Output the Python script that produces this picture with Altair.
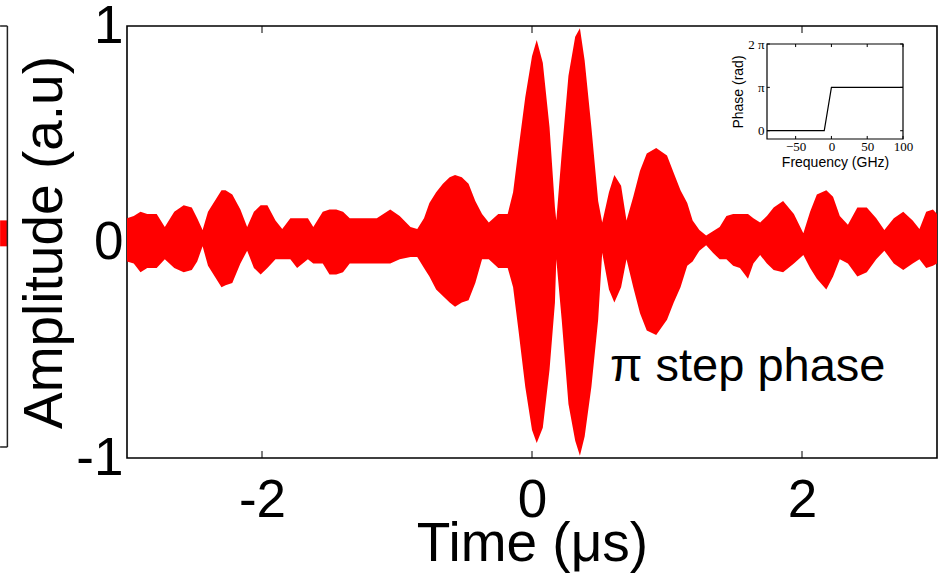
import math
import altair as alt
import pandas as pd

# ---------------- data ----------------
time_us = [
    -3.00, -2.95, -2.90, -2.85, -2.78, -2.72, -2.65, -2.58, -2.52, -2.48,
    -2.44, -2.40, -2.35, -2.30, -2.27, -2.22, -2.16, -2.11, -2.06, -2.01,
    -1.96, -1.90, -1.85, -1.79, -1.74, -1.66, -1.62, -1.55, -1.50, -1.45,
    -1.40, -1.35, -1.25, -1.15, -1.05, -0.98, -0.90, -0.85, -0.80, -0.76,
    -0.71, -0.66, -0.61, -0.57, -0.52, -0.47, -0.42, -0.37, -0.32, -0.25,
    -0.18, -0.14, -0.10, -0.05, 0.00, 0.035, 0.08, 0.13, 0.17, 0.18,
    0.22, 0.27, 0.32, 0.355, 0.39, 0.44, 0.49, 0.52, 0.57, 0.61,
    0.66, 0.70, 0.75, 0.80, 0.85, 0.92, 1.00, 1.05, 1.10, 1.15,
    1.19, 1.24, 1.29, 1.34, 1.39, 1.44, 1.49, 1.54, 1.60, 1.64,
    1.69, 1.74, 1.79, 1.86, 1.94, 2.01, 2.06, 2.11, 2.18, 2.23,
    2.28, 2.34, 2.41, 2.48, 2.55, 2.61, 2.68, 2.75, 2.82, 2.87,
    2.92, 2.97, 3.00,
]
upper_env = [
    0.11, 0.12, 0.14, 0.13, 0.13, 0.07, 0.14, 0.17, 0.16, 0.11,
    0.055, 0.14, 0.19, 0.24, 0.24, 0.22, 0.15, 0.07, 0.14, 0.17,
    0.17, 0.10, 0.06, 0.11, 0.11, 0.11, 0.07, 0.14, 0.15, 0.15,
    0.14, 0.11, 0.11, 0.11, 0.15, 0.12, 0.07, 0.06, 0.11, 0.18,
    0.23, 0.27, 0.30, 0.31, 0.30, 0.27, 0.19, 0.13, 0.09, 0.13,
    0.13, 0.23, 0.43, 0.67, 0.86, 0.935, 0.83, 0.53, 0.16, 0.10,
    0.41, 0.77, 0.95, 0.99, 0.84, 0.53, 0.19, 0.09, 0.23, 0.31,
    0.26, 0.10, 0.21, 0.33, 0.41, 0.435, 0.40, 0.32, 0.24, 0.18,
    0.10, 0.055, 0.03, 0.05, 0.07, 0.12, 0.13, 0.13, 0.13, 0.11,
    0.09, 0.12, 0.16, 0.19, 0.13, 0.04, 0.14, 0.22, 0.24, 0.21,
    0.12, 0.08, 0.16, 0.16, 0.11, 0.055, 0.11, 0.14, 0.10, 0.06,
    0.14, 0.15, 0.13,
]
lower_env = [
    -0.09, -0.10, -0.14, -0.12, -0.12, -0.08, -0.12, -0.14, -0.13, -0.09,
    -0.02, -0.11, -0.16, -0.21, -0.20, -0.19, -0.10, -0.04, -0.12, -0.15,
    -0.12, -0.08, -0.08, -0.08, -0.12, -0.08, -0.10, -0.10, -0.15, -0.15,
    -0.14, -0.10, -0.10, -0.10, -0.10, -0.08, -0.07, -0.07, -0.12, -0.16,
    -0.22, -0.25, -0.28, -0.30, -0.28, -0.27, -0.19, -0.08, -0.08, -0.12,
    -0.12, -0.21, -0.41, -0.67, -0.87, -0.93, -0.86, -0.59, -0.28, -0.08,
    -0.36, -0.75, -0.92, -0.99, -0.90, -0.67, -0.36, -0.05, -0.22, -0.28,
    -0.21, -0.08, -0.21, -0.33, -0.41, -0.43, -0.36, -0.28, -0.21, -0.11,
    -0.09, -0.04, -0.015, -0.05, -0.08, -0.08, -0.11, -0.12, -0.17, -0.10,
    -0.06, -0.10, -0.13, -0.14, -0.10, -0.06, -0.12, -0.17, -0.22, -0.16,
    -0.08, -0.10, -0.16, -0.14, -0.08, -0.04, -0.10, -0.13, -0.10, -0.08,
    -0.12, -0.11, -0.10,
]

# cropped edge of the neighbouring panel (left border of the picture)
frag_time = [-3.94, -3.886]
frag_upper = [0.10, 0.10]
frag_lower = [-0.02, -0.02]
frag_x1 = [-3.886, -3.94, -3.94]
frag_x2 = [-3.886, -3.886, -3.886]
frag_y1 = [1.0, 1.0, -0.949]
frag_y2 = [-0.949, 1.0, -0.949]

x_ticks = [-2, 0, 2]
y_ticks = [-1, 0, 1]
annotation_t = [0.578]
annotation_v = [-0.643]
annotation_text = ["π step phase"]

# inset: phase vs frequency
inset_freq = [-90, -10, 0, 100]
inset_phase = [0, 0, math.pi, math.pi]
inset_x_domain = [-90, 100]
inset_y_domain = [-0.6, 2 * math.pi]
inset_x_ticks = [-50, 0, 50, 100]
inset_y_ticks = [0, math.pi, 2 * math.pi]

FONT = "Liberation Sans"
SERIF = "Liberation Serif"
RED = "#ff0000"

# ---------------- main panel ----------------
def xs():
    return alt.Scale(domain=[-3, 3], nice=False, zero=False)


def ys():
    return alt.Scale(domain=[-1, 1], nice=False, zero=False)


sig = pd.DataFrame({"t": time_us, "hi": upper_env, "lo": lower_env})

x_axis = alt.Axis(
    orient="bottom", values=x_ticks, ticks=False, domain=False, grid=False,
    labelFont=FONT, labelFontSize=53, labelColor="black", labelPadding=16,
    labelExpr="'' + datum.value", labelOverlap=False, labelFlush=False,
    title="Time (μs)", titleFont=FONT, titleFontSize=55, titleFontWeight="normal",
    titleColor="black", titlePadding=-10,
)
y_axis = alt.Axis(
    orient="left", values=y_ticks, ticks=False, domain=False, grid=False,
    labelFont=FONT, labelFontSize=53, labelColor="black", labelPadding=4,
    labelExpr="'' + datum.value", labelOverlap=False, labelFlush=False,
    title="Amplitude (a.u)", titleFont=FONT, titleFontSize=55,
    titleFontWeight="normal", titleColor="black", titlePadding=2,
)

signal = alt.Chart(sig).mark_area(color=RED, interpolate="linear").encode(
    x=alt.X("t:Q", scale=xs(), axis=x_axis),
    y=alt.Y("hi:Q", scale=ys(), axis=y_axis),
    y2="lo:Q",
)

tick_len = 7 / 216.0
tick_df = pd.DataFrame({
    "t": x_ticks * 2,
    "a": [-1.0] * len(x_ticks) + [1.0] * len(x_ticks),
    "b": [-1.0 + tick_len] * len(x_ticks) + [1.0 - tick_len] * len(x_ticks),
})
main_ticks = alt.Chart(tick_df).mark_rule(color="black", strokeWidth=1).encode(
    x=alt.X("t:Q", scale=xs(), axis=None),
    y=alt.Y("a:Q", scale=ys(), axis=None),
    y2="b:Q",
)

ann = alt.Chart(pd.DataFrame({"t": annotation_t, "v": annotation_v,
                              "s": annotation_text})).mark_text(
    align="left", baseline="alphabetic", font=FONT, fontSize=47, color="black"
).encode(
    x=alt.X("t:Q", scale=xs(), axis=None),
    y=alt.Y("v:Q", scale=ys(), axis=None),
    text="s:N",
)

frag_sig = alt.Chart(pd.DataFrame({"t": frag_time, "hi": frag_upper,
                                   "lo": frag_lower})).mark_area(color=RED).encode(
    x=alt.X("t:Q", scale=xs(), axis=None),
    y=alt.Y("hi:Q", scale=ys(), axis=None),
    y2="lo:Q",
)
frag_frame = alt.Chart(pd.DataFrame({"x1": frag_x1, "x2": frag_x2,
                                     "y1": frag_y1, "y2": frag_y2})).mark_rule(
    color="#222222", strokeWidth=1.5
).encode(
    x=alt.X("x1:Q", scale=xs(), axis=None),
    x2="x2:Q",
    y=alt.Y("y1:Q", scale=ys(), axis=None),
    y2="y2:Q",
)

# ---------------- inset ----------------
def ixs():
    return alt.Scale(domain=inset_x_domain, range=[640, 776], nice=False, zero=False)


def iys():
    return alt.Scale(domain=inset_y_domain, range=[113, 18], nice=False, zero=False)


box = alt.Chart(pd.DataFrame({
    "x0": [inset_x_domain[0]], "x1": [inset_x_domain[1]],
    "y0": [inset_y_domain[0]], "y1": [inset_y_domain[1]],
})).mark_rect(fill="white", stroke="black", strokeWidth=1.2).encode(
    x=alt.X("x0:Q", scale=ixs(), axis=None),
    x2="x1:Q",
    y=alt.Y("y0:Q", scale=iys(), axis=None),
    y2="y1:Q",
)

ix_axis = alt.Axis(
    orient="bottom", offset=-319, values=inset_x_ticks, ticks=False,
    domain=False, grid=False, labelFont=SERIF, labelFontSize=13,
    labelColor="black", labelPadding=1, labelOverlap=False, labelFlush=False,
    labelExpr="datum.value < 0 ? '\u2212' + (-datum.value) : '' + datum.value",
    title="Frequency (GHz)", titleFont=FONT, titleFontSize=14,
    titleFontWeight="normal", titleColor="black", titlePadding=2,
)
iy_axis = alt.Axis(
    orient="left", offset=-640, values=inset_y_ticks, ticks=False,
    domain=False, grid=False, labelFont=SERIF, labelFontSize=13,
    labelColor="black", labelPadding=3, labelOverlap=False, labelFlush=False,
    labelExpr="datum.value < 1 ? '0' : (datum.value < 4 ? 'π' : '2 π')",
    title="Phase (rad)", titleFont=FONT, titleFontSize=14,
    titleFontWeight="normal", titleColor="black", titlePadding=2,
)

phase_line = alt.Chart(pd.DataFrame({"f": inset_freq, "p": inset_phase})).mark_line(
    color="black", strokeWidth=1.2
).encode(
    x=alt.X("f:Q", scale=ixs(), axis=ix_axis),
    y=alt.Y("p:Q", scale=iys(), axis=iy_axis),
)

ilx = 0.22
ily = 4.0
n1 = len(inset_x_ticks)
n2 = len(inset_y_ticks)
inset_tick_df = pd.DataFrame({
    "xa": inset_x_ticks * 2 + [inset_x_domain[0]] * n2 + [inset_x_domain[1]] * n2,
    "xb": inset_x_ticks * 2 + [inset_x_domain[0] + ily] * n2 + [inset_x_domain[1] - ily] * n2,
    "ya": [inset_y_domain[0]] * n1 + [inset_y_domain[1]] * n1 + inset_y_ticks * 2,
    "yb": [inset_y_domain[0] + ilx] * n1 + [inset_y_domain[1] - ilx] * n1 + inset_y_ticks * 2,
})
inset_ticks = alt.Chart(inset_tick_df).mark_rule(color="black", strokeWidth=1).encode(
    x=alt.X("xa:Q", scale=ixs(), axis=None),
    x2="xb:Q",
    y=alt.Y("ya:Q", scale=iys(), axis=None),
    y2="yb:Q",
)

chart = alt.layer(
    signal, main_ticks, ann, frag_sig, frag_frame, box, inset_ticks, phase_line
).resolve_scale(
    x="independent", y="independent"
).properties(
    width=810, height=432,
    autosize=alt.AutoSizeParams(type="none"),
    padding={"left": 127, "top": 26, "right": 7, "bottom": 119},
    background="white",
).configure_view(stroke="black", strokeWidth=1.6)

chart.save("out.html", embed_options={"renderer": "svg", "actions": False})
